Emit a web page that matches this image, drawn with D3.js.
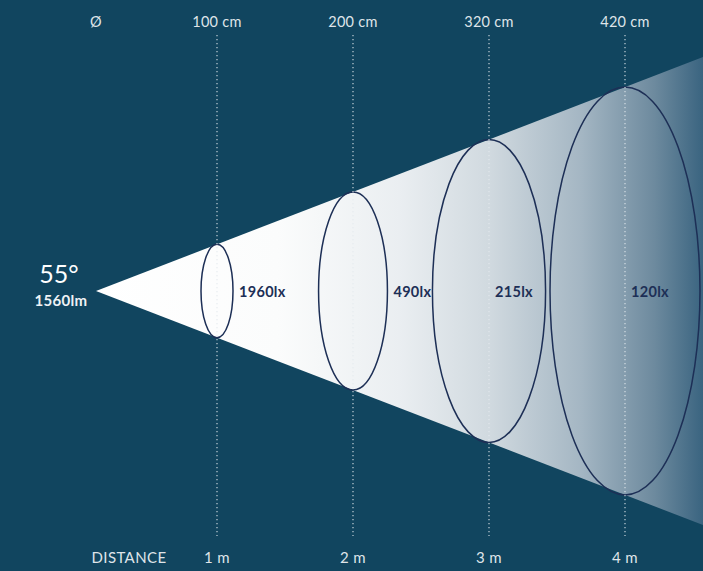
<!DOCTYPE html>
<html>
<head>
<meta charset="utf-8">
<script src="https://cdn.jsdelivr.net/npm/d3@7"></script>
<style>
  html, body { margin: 0; padding: 0; background: #11455f; }
  svg { display: block; font-family: Lato, "Open Sans", sans-serif; }
</style>
</head>
<body>
<svg id="chart" width="703" height="571"></svg>
<script>
// beam data
var distances = [1, 2, 3, 4];               // metres
var diameters = [100, 200, 320, 420];       // cm
var lux = [1960, 490, 215, 120];
var beamAngle = "55°";
var lumen = "1560lm";

var W = 703, H = 571;
var svg = d3.select("#chart");
var apex = { x: 96, y: 291 };

// distance -> x
var x = d3.scaleLinear().domain([1, 4]).range([217, 625]);
// half-height of cone as function of x (slope)
var slope = 0.3855;
var halfH = function(px) { return (px - apex.x) * slope; };
// ellipse width grows with diameter
var rx = d3.scaleLinear().domain([100, 420]).range([16, 75]);

svg.append("rect").attr("width", W).attr("height", H).attr("fill", "#11455f");

var defs = svg.append("defs");
var grad = defs.append("linearGradient")
  .attr("id", "beam").attr("gradientUnits", "userSpaceOnUse")
  .attr("x1", apex.x).attr("x2", W).attr("y1", 0).attr("y2", 0);
[[0, "#ffffff"], [0.3, "#fbfcfc"], [0.5, "#eaeef1"], [0.65, "#d0d9df"],
 [0.8, "#a4b6c3"], [0.92, "#6d8a9e"], [1, "#3a6480"]].forEach(function(s) {
  grad.append("stop").attr("offset", s[0]).attr("stop-color", s[1]);
});

svg.append("path")
  .attr("d", "M" + apex.x + "," + apex.y +
    "L" + W + "," + (apex.y - halfH(W)) +
    "L" + W + "," + (apex.y + halfH(W)) + "Z")
  .attr("fill", "url(#beam)");

// ellipses
svg.selectAll("ellipse.ring")
  .data(distances).enter()
  .append("ellipse")
  .attr("class", "ring")
  .attr("cx", (d) => x(d))
  .attr("cy", apex.y)
  .attr("rx", (d, i) => rx(diameters[i]))
  .attr("ry", (d) => halfH(x(d)))
  .attr("fill", "none")
  .attr("stroke", "#1d2f56")
  .attr("stroke-width", 1.5);

// dotted guide lines
svg.selectAll("line.guide")
  .data(distances).enter()
  .append("line")
  .attr("class", "guide")
  .attr("x1", (d) => x(d)).attr("x2", (d) => x(d))
  .attr("y1", 35).attr("y2", 536)
  .attr("stroke", "#e4eaef")
  .attr("stroke-opacity", 0.85)
  .attr("stroke-width", 1.2)
  .attr("stroke-dasharray", "1.2,2.8");

// lux labels
svg.selectAll("text.lux")
  .data(lux).enter()
  .append("text")
  .attr("class", "lux")
  .attr("x", function(d, i) {
    var r = rx(diameters[i]);
    return r < 40 ? x(distances[i]) + r + 6 : x(distances[i]) + 6;
  })
  .attr("y", apex.y + 6)
  .attr("fill", "#1d2f56")
  .attr("font-size", 14.5)
  .attr("font-weight", "bold")
  .attr("letter-spacing", 0.3)
  .text((d) => d + "lx");

// top labels
var topG = svg.append("g").attr("fill", "#dfe4e9").attr("font-size", 14.5)
  .attr("text-anchor", "middle").attr("letter-spacing", 0.3);
topG.append("text").attr("x", apex.x).attr("y", 27).text("Ø");
topG.selectAll("text.dia")
  .data(diameters).enter()
  .append("text").attr("class", "dia")
  .attr("x", (d, i) => x(distances[i]))
  .attr("y", 27)
  .text((d) => d + " cm");

// bottom labels
var botG = svg.append("g").attr("fill", "#dfe4e9").attr("font-size", 15)
  .attr("text-anchor", "middle").attr("letter-spacing", 0.4);
botG.append("text").attr("x", 129).attr("y", 563).text("DISTANCE");
botG.selectAll("text.dist")
  .data(distances).enter()
  .append("text").attr("class", "dist")
  .attr("x", (d) => x(d))
  .attr("y", 563)
  .text((d) => d + " m");

// beam angle / lumen
svg.append("text").attr("x", 59).attr("y", 283)
  .attr("text-anchor", "middle").attr("fill", "#ffffff")
  .attr("font-size", 25).text(beamAngle);
svg.append("text").attr("x", 61).attr("y", 306)
  .attr("text-anchor", "middle").attr("fill", "#eef2f5")
  .attr("font-size", 15).attr("font-weight", "bold").attr("letter-spacing", 0.3)
  .text(lumen);
</script>
</body>
</html>
